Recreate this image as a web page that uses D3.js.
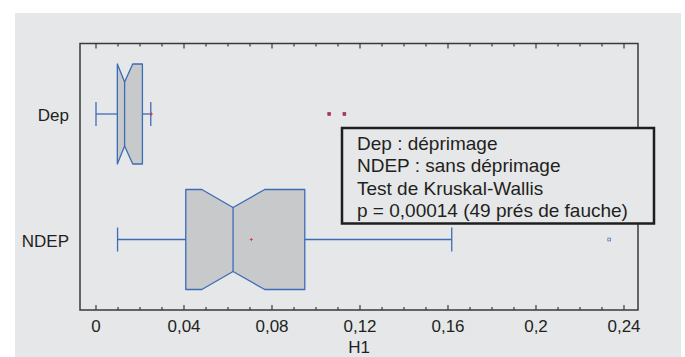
<!DOCTYPE html>
<html>
<head>
<meta charset="utf-8">
<script src="https://cdnjs.cloudflare.com/ajax/libs/d3/7.8.5/d3.min.js"></script>
<style>
  body { margin: 0; background: #fff; }
  text { font-family: 'Liberation Sans', Arial, sans-serif; fill: #231f20; }
</style>
</head>
<body>
<script>
// groups, top to bottom
const groups = ['Dep', 'NDEP']
// box stats (H1)
const whiskerLo = [0.0000, 0.0098]
const q1 = [0.0097, 0.0408]
const notchLo = [0.0097, 0.0481]
const median = [0.0130, 0.0623]
const notchHi = [0.0167, 0.0767]
const q3 = [0.0211, 0.0949]
const whiskerHi = [0.0249, 0.1617]
const means = [0.0252, 0.0706]
const outliers = [[0.1060, 0.1129], [0.2333]]

const ticks = [0, 0.04, 0.08, 0.12, 0.16, 0.2, 0.24]
const minorTicks = d3.range(0, 25).map(i => i / 100)
const legendLines = [
  'Dep : déprimage',
  'NDEP : sans déprimage',
  'Test de Kruskal-Wallis',
  'p = 0,00014 (49 prés de fauche)'
]

const W = 685
const H = 357
const bg = '#e6e7e9'
const blue = '#3b6cb7'
const boxFill = '#c8c9cb'
const frame = { left: 80, top: 43.5, right: 638, bottom: 310 }

const svg = d3.select('body').append('svg')
  .attr('width', W)
  .attr('height', H)

svg.append('rect')
  .attr('x', 15).attr('y', 13)
  .attr('width', 666).attr('height', H - 13)
  .attr('fill', bg)

const x = d3.scaleLinear().domain([0, 0.24]).range([96, 624])
const y = d3.scalePoint().domain(groups).range([114, 239.5])
const fmt = d => String(d).replace('.', ',')

const halfH = 50
const notchDepth = 18
const capH = 12

// boxes
groups.forEach((g, i) => {
  const cy = y(g)
  const top = cy - halfH
  const bot = cy + halfH
  const gg = svg.append('g')

  // whiskers
  gg.append('line')
    .attr('x1', x(whiskerLo[i])).attr('x2', x(q1[i]))
    .attr('y1', cy).attr('y2', cy)
    .attr('stroke', blue).attr('stroke-width', 1.3)
  gg.append('line')
    .attr('x1', x(q3[i])).attr('x2', x(whiskerHi[i]))
    .attr('y1', cy).attr('y2', cy)
    .attr('stroke', blue).attr('stroke-width', 1.3)
  ;[whiskerLo[i], whiskerHi[i]].forEach(v => {
    gg.append('line')
      .attr('x1', x(v)).attr('x2', x(v))
      .attr('y1', cy - capH).attr('y2', cy + capH)
      .attr('stroke', blue).attr('stroke-width', 1.3)
  })

  // notched box
  const pts = [
    [x(q1[i]), top], [x(notchLo[i]), top], [x(median[i]), top + notchDepth],
    [x(notchHi[i]), top], [x(q3[i]), top], [x(q3[i]), bot],
    [x(notchHi[i]), bot], [x(median[i]), bot - notchDepth], [x(notchLo[i]), bot],
    [x(q1[i]), bot]
  ]
  gg.append('path')
    .attr('d', d3.line()(pts) + 'Z')
    .attr('fill', boxFill)
    .attr('stroke', blue)
    .attr('stroke-width', 1.3)
    .attr('stroke-linejoin', 'round')
  gg.append('line')
    .attr('x1', x(median[i])).attr('x2', x(median[i]))
    .attr('y1', top + notchDepth).attr('y2', bot - notchDepth)
    .attr('stroke', blue).attr('stroke-width', 1.3)

  // mean
  gg.append('path')
    .attr('d', `M${x(means[i]) - 1.5},${cy}h3M${x(means[i])},${cy - 1.5}v3`)
    .attr('stroke', '#e8303a').attr('stroke-width', 0.9)

  // outliers
  gg.selectAll('rect.out')
    .data(outliers[i])
    .join('rect')
    .attr('x', d => x(d) - 1.4).attr('y', cy - 1.4)
    .attr('width', 2.8).attr('height', 2.8)
    .attr('fill', i === 0 ? '#c8283c' : bg)
    .attr('stroke', i === 0 ? '#8a3a6a' : blue).attr('stroke-width', 0.7)
})

// frame and ticks
svg.append('rect')
  .attr('x', frame.left).attr('y', frame.top)
  .attr('width', frame.right - frame.left).attr('height', frame.bottom - frame.top)
  .attr('fill', 'none')
  .attr('stroke', '#3a3a3a')
  .attr('stroke-width', 1.5)

const isMajor = v => ticks.some(t => Math.abs(t - v) < 1e-9)
svg.append('g').selectAll('line')
  .data(minorTicks)
  .join('line')
  .attr('x1', d => x(d)).attr('x2', d => x(d))
  .attr('y1', frame.top).attr('y2', d => frame.top + (isMajor(d) ? 5 : 3))
  .attr('stroke', '#3a3a3a').attr('stroke-width', 1.2)
svg.append('g').selectAll('line')
  .data(minorTicks)
  .join('line')
  .attr('x1', d => x(d)).attr('x2', d => x(d))
  .attr('y1', frame.bottom).attr('y2', d => frame.bottom - (isMajor(d) ? 5 : 3))
  .attr('stroke', '#3a3a3a').attr('stroke-width', 1.2)

svg.append('g').selectAll('text')
  .data(ticks)
  .join('text')
  .attr('x', d => x(d)).attr('y', 332)
  .attr('text-anchor', 'middle')
  .attr('font-size', 17)
  .text(fmt)

svg.append('text')
  .attr('x', (frame.left + frame.right) / 2).attr('y', 353)
  .attr('text-anchor', 'middle')
  .attr('font-size', 17)
  .text('H1')

svg.append('g').selectAll('text')
  .data(groups)
  .join('text')
  .attr('x', 69).attr('y', d => y(d) + 7)
  .attr('text-anchor', 'end')
  .attr('font-size', 17)
  .text(d => d)

// legend box
svg.append('rect')
  .attr('x', 342).attr('y', 128)
  .attr('width', 312).attr('height', 95.5)
  .attr('fill', bg)
  .attr('stroke', '#1e1e1e')
  .attr('stroke-width', 2.5)

svg.append('g').selectAll('text')
  .data(legendLines)
  .join('text')
  .attr('x', 357).attr('y', (d, i) => 150 + i * 22.3)
  .attr('font-size', 19)
  .text(d => d)
</script>
</body>
</html>
